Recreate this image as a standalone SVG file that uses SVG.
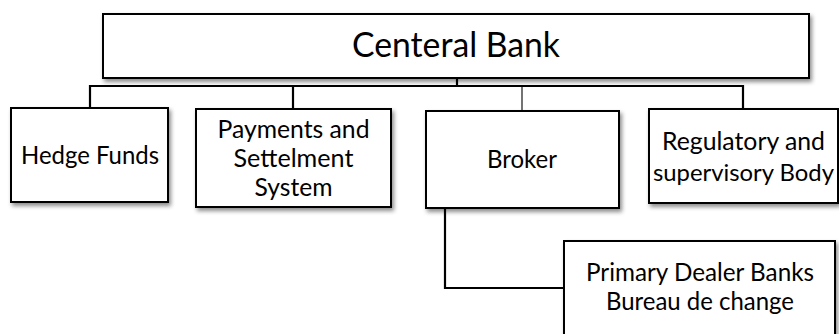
<svg xmlns="http://www.w3.org/2000/svg" width="839" height="334" viewBox="0 0 839 334">
  <style>
    .box { fill: #ffffff; stroke: #000000; stroke-width: 2; filter: url(#shadow); }
    .lbl { font-family: Lato, "Open Sans", sans-serif; font-size: 25.5px; fill: #000000; text-anchor: middle; }
    .big { font-size: 35px; }
    .tight { font-size: 23.8px; }
    .conn { fill: none; stroke: #000000; stroke-width: 2.2; }
    .thin { fill: none; stroke: #000000; stroke-width: 1.1; }
  </style>
  <defs>
    <filter id="shadow" x="-10%" y="-10%" width="130%" height="140%">
      <feDropShadow dx="2" dy="3" stdDeviation="2" flood-color="#000000" flood-opacity="0.45"/>
    </filter>
  </defs>
  <rect width="839" height="334" fill="#ffffff"/>

  <g id="connectors">
    <path class="conn" d="M457 78 V86"/>
    <path class="conn" d="M90 108 V86 H743 V109"/>
    <path class="conn" d="M293 86 V109"/>
    <path class="thin" d="M522 86 V111"/>
    <path class="conn" d="M445 208 V288 H564"/>
  </g>

  <g id="central-bank">
    <rect class="box" x="103" y="14" width="706" height="64"/>
    <text class="lbl big" x="456" y="57" textLength="208" lengthAdjust="spacingAndGlyphs">Centeral Bank</text>
  </g>

  <g id="hedge-funds">
    <rect class="box" x="11" y="108" width="157" height="94"/>
    <text class="lbl" x="90" y="164" textLength="138" lengthAdjust="spacingAndGlyphs">Hedge Funds</text>
  </g>

  <g id="payments">
    <rect class="box" x="196" y="109" width="195" height="98"/>
    <text class="lbl" x="293.5" y="138" textLength="152" lengthAdjust="spacingAndGlyphs">Payments and</text>
    <text class="lbl" x="293.5" y="167" textLength="120" lengthAdjust="spacingAndGlyphs">Settelment</text>
    <text class="lbl" x="293.5" y="196" textLength="78" lengthAdjust="spacingAndGlyphs">System</text>
  </g>

  <g id="broker">
    <rect class="box" x="426" y="111" width="193" height="97"/>
    <text class="lbl" x="522" y="168" textLength="70" lengthAdjust="spacingAndGlyphs">Broker</text>
  </g>

  <g id="regulatory">
    <rect class="box" x="649" y="109" width="189" height="94"/>
    <text class="lbl" x="743.5" y="150" textLength="163" lengthAdjust="spacingAndGlyphs">Regulatory and</text>
    <text class="lbl tight" x="743.5" y="181" textLength="181" lengthAdjust="spacingAndGlyphs">supervisory Body</text>
  </g>

  <g id="primary-dealer">
    <rect class="box" x="564" y="241" width="271" height="120"/>
    <text class="lbl" x="700" y="281" textLength="228" lengthAdjust="spacingAndGlyphs">Primary Dealer Banks</text>
    <text class="lbl" x="700" y="310" textLength="188" lengthAdjust="spacingAndGlyphs">Bureau de change</text>
  </g>
</svg>
